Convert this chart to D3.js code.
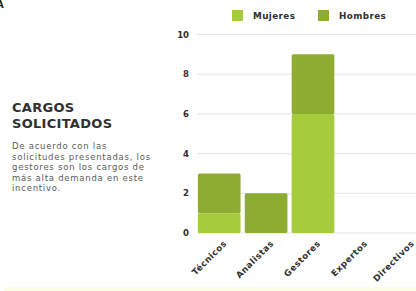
<!DOCTYPE html>
<html>
<head>
<meta charset="utf-8">
<script src="https://cdn.jsdelivr.net/npm/d3@7"></script>
<style>
  body { margin: 0; background: #fff; }
  svg { display: block; font-family: "DejaVu Sans", sans-serif; }
</style>
</head>
<body>
<svg id="chart" width="416" height="291"></svg>
<script>
const categories = ["Técnicos", "Analistas", "Gestores", "Expertos", "Directivos"];
const mujeres = [1, 0, 6, 0, 0];
const hombres = [2, 2, 3, 0, 0];
const seriesNames = ["Mujeres", "Hombres"];
const yTicks = [0, 2, 4, 6, 8, 10];
const noteLines = [
  "De acuerdo con las",
  "solicitudes presentadas, los",
  "gestores son los cargos de",
  "más alta demanda en este",
  "incentivo."
];

const width = 416;
const height = 291;
const svg = d3.select("#chart");
const color = d3.scaleOrdinal().domain(seriesNames).range(["#a6cb3d", "#8cad31"]);

// pale strip at the bottom edge
svg.append("rect")
   .attr("x", 4).attr("y", 287)
   .attr("width", width).attr("height", 4)
   .attr("fill", "#fdfde7");

// cropped letter at top-left
svg.append("text")
   .attr("x", -4).attr("y", 8)
   .attr("font-size", 10).attr("font-weight", 700)
   .attr("fill", "#222")
   .text("A");

// side text
svg.append("text")
   .attr("font-size", 13).attr("font-weight", 700)
   .attr("letter-spacing", 0.3)
   .attr("fill", "#2f3030")
   .selectAll("tspan")
   .data(["CARGOS", "SOLICITADOS"])
   .enter().append("tspan")
   .attr("x", 12)
   .attr("y", (d, i) => 112 + i * 16)
   .text(d => d);

svg.append("text")
   .attr("font-size", 8.5)
   .attr("fill", "#5a5a5a")
   .attr("letter-spacing", 0.75)
   .selectAll("tspan")
   .data(noteLines)
   .enter().append("tspan")
   .attr("x", 12)
   .attr("y", (d, i) => 149 + i * 10.6)
   .text(d => d);

// scales
const x = d3.scaleBand()
            .domain(categories)
            .range([196, 430])
            .paddingInner(0.09)
            .paddingOuter(0.04);

const y = d3.scaleLinear()
            .domain([0, 10])
            .range([233, 34.5]);

// grid
svg.append("g")
   .selectAll("line")
   .data(yTicks)
   .enter().append("line")
   .attr("x1", 197).attr("x2", width)
   .attr("y1", d => y(d)).attr("y2", d => y(d))
   .attr("stroke", "#e4e4e4")
   .attr("stroke-width", 1);

// y axis labels
svg.append("g")
   .selectAll("text")
   .data(yTicks)
   .enter().append("text")
   .attr("x", 189)
   .attr("y", d => y(d) + 3)
   .attr("text-anchor", "end")
   .attr("font-size", 8.5)
   .attr("font-weight", 700)
   .attr("fill", "#2f3030")
   .text(d => d);

// stacked bars
const table = categories.map((c, i) => ({ cat: c, Mujeres: mujeres[i], Hombres: hombres[i] }));
const stacked = d3.stack().keys(seriesNames)(table);

svg.append("g")
   .selectAll("g")
   .data(stacked)
   .enter().append("g")
   .attr("fill", d => color(d.key))
   .selectAll("rect")
   .data(d => d.filter(s => s[1] > s[0]))
   .enter().append("rect")
   .attr("x", d => x(d.data.cat))
   .attr("y", d => y(d[1]))
   .attr("width", x.bandwidth())
   .attr("height", d => y(d[0]) - y(d[1]))
   .attr("rx", 1.5);

// x labels
svg.append("g")
   .selectAll("text")
   .data(categories)
   .enter().append("text")
   .attr("text-anchor", "end")
   .attr("font-size", 8.6)
   .attr("font-weight", 700)
   .attr("letter-spacing", 0.5)
   .attr("fill", "#2f3030")
   .attr("transform", d => `translate(${x(d) + x.bandwidth() / 2 + 8},${244}) rotate(-45)`)
   .text(d => d);

// legend
const legend = svg.append("g");
const legendX = [232, 318];
seriesNames.forEach((s, i) => {
  legend.append("rect")
        .attr("x", legendX[i]).attr("y", 10)
        .attr("width", 11).attr("height", 11)
        .attr("fill", color(s));
  legend.append("text")
        .attr("x", legendX[i] + 21).attr("y", 18.8)
        .attr("font-size", 8.8)
        .attr("font-weight", 700)
        .attr("letter-spacing", 0.4)
        .attr("fill", "#2f3030")
        .text(s);
});
</script>
</body>
</html>
